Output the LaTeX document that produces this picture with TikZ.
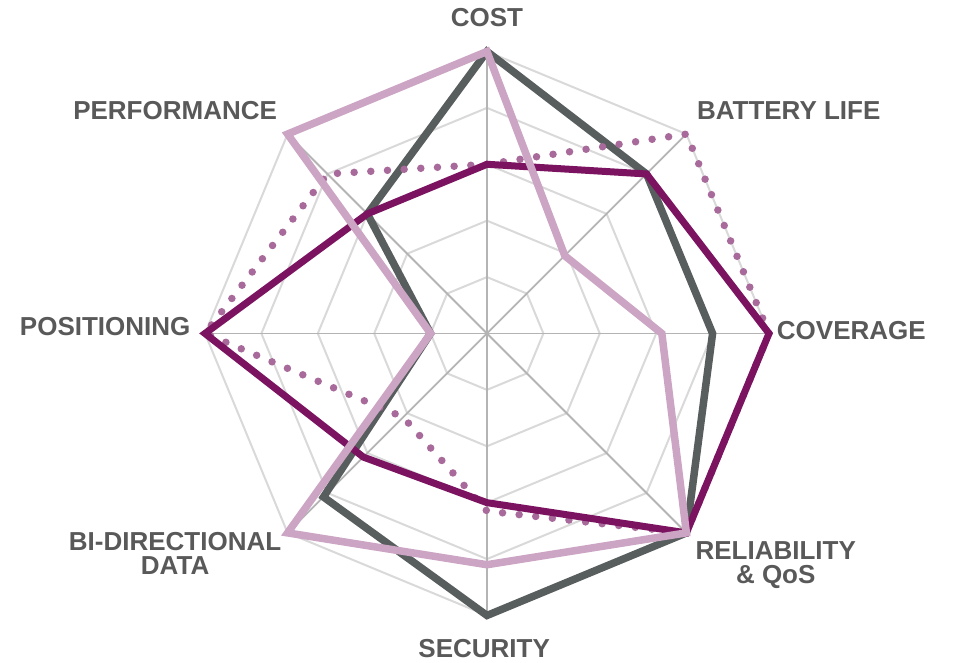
\documentclass[tikz,border=0pt]{standalone}
\usepackage{fontspec}
\setmainfont{Liberation Sans}
\usetikzlibrary{calc}

\definecolor{lblgrey}{RGB}{89,89,89}
\definecolor{ringgrey}{RGB}{217,217,217}
\definecolor{spokegrey}{RGB}{180,180,180}
\definecolor{slate}{RGB}{88,93,93}
\definecolor{plum}{RGB}{123,19,96}
\definecolor{mauve}{RGB}{168,106,155}
\definecolor{blush}{RGB}{204,164,196}

\tikzset{
  lbl/.style={text=lblgrey, font=\fontsize{26}{24}\selectfont\bfseries, align=center, inner sep=0pt},
  ring/.style={ringgrey, line width=2pt},
  spoke/.style={spokegrey, line width=1.8pt},
  slateline/.style={slate, line width=7.5pt},
  plumline/.style={plum, line width=7pt},
  mauvedots/.style={mauve, line width=7.5pt, line cap=round, dash pattern=on 0pt off 16.7pt},
  blushline/.style={blush, line width=7.5pt}
}

\begin{document}
\begin{tikzpicture} [x=56.4pt,y=56.4pt]

\useasboundingbox (-8.635,-5.842) rectangle (8.316,5.913);

\coordinate (O) at (0,0);

% grid
\foreach \r in {1,...,5}
  \draw[ring] (90:\r) -- (45:\r) -- (0:\r) -- (-45:\r) -- (-90:\r) -- (-135:\r) -- (180:\r) -- (135:\r) -- cycle;
\foreach \a in {0,45,...,315}
  \draw[spoke] (O) -- (\a:5);

% series
\draw[slateline] (90:5) -- (45:4) -- (0:4) -- (-45:5) -- (-90:5) -- (-135:4.1) -- (180:1) -- (135:3) -- cycle;
\draw[mauvedots] (90:3) -- (45:5) -- (0:5) -- (-45:5) -- (-90:3.15) -- (-135:2.1) -- (180:5) -- (135:4) -- cycle;
\draw[plumline] (90:3) -- (45:4) -- (0:5) -- (-45:5) -- (-90:3) -- (-135:3.1) -- (180:5) -- (135:3) -- cycle;
\draw[blushline] (90:5) -- (45:1.95) -- (0:3.1) -- (-45:5) -- (-90:4.1) -- (-135:5) -- (180:1) -- (135:5) -- cycle;

% labels
\node[lbl] (cost) at (0,5.61) {COST};
\node[lbl] (battery) at (5.35,3.96) {BATTERY LIFE};
\node[lbl] (coverage) at (6.46,0.06) {COVERAGE};
\node[lbl] (reliability) at (5.12,-4.10) {RELIABILITY\\\& QoS};
\node[lbl] (security) at (-0.05,-5.59) {SECURITY};
\node[lbl] (bidir) at (-5.53,-3.90) {BI-DIRECTIONAL\\DATA};
\node[lbl] (positioning) at (-6.77,0.115) {POSITIONING};
\node[lbl] (performance) at (-5.53,3.96) {PERFORMANCE};

\end{tikzpicture}
\end{document}
